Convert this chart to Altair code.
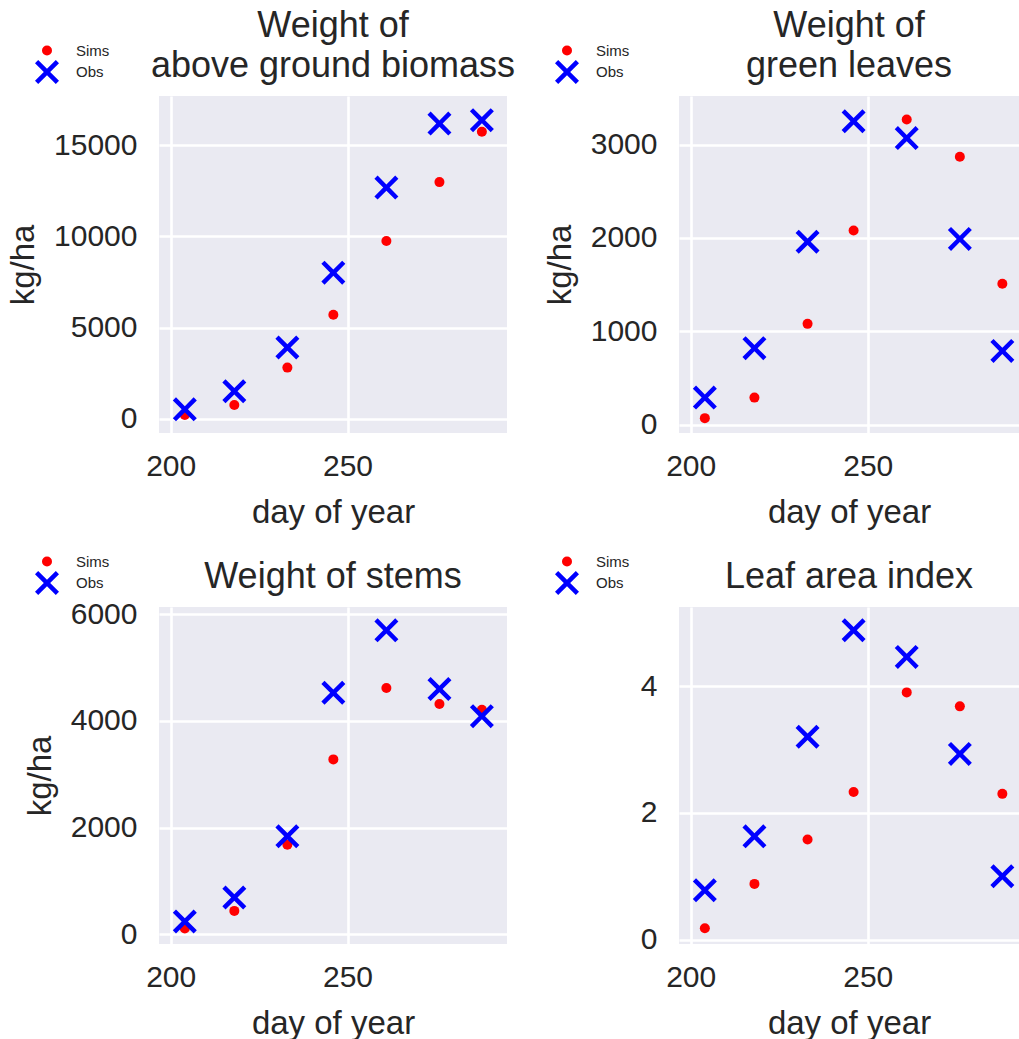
import altair as alt
import pandas as pd

# ---- data ----
days = [204, 218, 233, 246, 261, 276, 288]
series = ["Sims", "Obs"]

biomass_sims = [200, 750, 2800, 5700, 9750, 12980, 15740]
biomass_obs = [510, 1500, 3900, 8010, 12680, 16190, 16380]
leaves_sims = [70, 290, 1080, 2080, 3270, 2870, 1510]
leaves_obs = [290, 820, 1960, 3250, 3070, 1990, 790]
stems_sims = [110, 440, 1680, 3280, 4620, 4320, 4210]
stems_obs = [240, 690, 1840, 4530, 5700, 4600, 4090]
lai_sims = [0.18, 0.88, 1.58, 2.33, 3.90, 3.68, 2.30]
lai_obs = [0.78, 1.63, 3.20, 4.88, 4.46, 2.93, 1.00]

titles = [["Weight of", "above ground biomass"], ["Weight of", "green leaves"],
          "Weight of stems", "Leaf area index"]
y_titles = ["kg/ha", "kg/ha", "kg/ha", None]
y_domains = [[-790, 17706], [-89, 3521], [-181, 6137], [-0.068, 5.247]]
y_ticks = [[0, 5000, 10000, 15000], [0, 1000, 2000, 3000], [0, 2000, 4000, 6000], [0, 2, 4]]
x_ticks = [200, 250]
x_domain_left = [196.7, 295.1]
x_domain_right = [196.7, 292.7]

FONT = "Liberation Sans"
TXT = "#262626"
XPATH = ("M-1,-0.735 L-0.265,0 L-1,0.735 L-0.735,1 L0,0.265 L0.735,1 "
         "L1,0.735 L0.265,0 L1,-0.735 L0.735,-1 L0,-0.265 L-0.735,-1 Z")


def panel(title, sims, obs, ytitle, ydom, yvals, width, xdom):
    df = pd.DataFrame({
        "day": days + days,
        "value": sims + obs,
        "series": ["Sims"] * len(days) + ["Obs"] * len(days),
    })
    leg = alt.Legend(title=None, orient="none", legendX=-125, legendY=-53,
                     labelFontSize=15, labelFont=FONT, labelColor=TXT,
                     labelOffset=16, symbolOpacity=1, rowPadding=-2, padding=0)
    yaxis = alt.Axis(values=yvals, title=ytitle, format="d") if ytitle else \
        alt.Axis(values=yvals, title=None, format="d")
    return alt.Chart(df).mark_point(filled=True, opacity=1).encode(
        x=alt.X("day:Q", scale=alt.Scale(domain=xdom, nice=False, zero=False),
                axis=alt.Axis(values=x_ticks, title="day of year", format="d")),
        y=alt.Y("value:Q", scale=alt.Scale(domain=ydom, nice=False, zero=False), axis=yaxis),
        color=alt.Color("series:N", scale=alt.Scale(domain=series, range=["#ff0000", "#0000ff"]), legend=leg),
        shape=alt.Shape("series:N", scale=alt.Scale(domain=series, range=["circle", XPATH]), legend=leg),
        size=alt.Size("series:N", scale=alt.Scale(domain=series, range=[100, 576]), legend=leg),
    ).properties(width=width, height=337, title=alt.TitleParams(text=title, frame="group"))


p1 = panel(titles[0], biomass_sims, biomass_obs, y_titles[0], y_domains[0], y_ticks[0], 348, x_domain_left)
p2 = panel(titles[1], leaves_sims, leaves_obs, y_titles[1], y_domains[1], y_ticks[1], 340, x_domain_right)
p3 = panel(titles[2], stems_sims, stems_obs, y_titles[2], y_domains[2], y_ticks[2], 348, x_domain_left)
p4 = panel(titles[3], lai_sims, lai_obs, y_titles[3], y_domains[3], y_ticks[3], 340, x_domain_right)

chart = alt.concat(p1, p2, p3, p4, columns=2, spacing={"row": 174, "column": 172}).resolve_scale(
    x="independent", y="independent", color="independent", shape="independent", size="independent"
).resolve_legend(color="independent", shape="independent", size="independent").properties(
    bounds="flush", padding={"left": 7, "top": 8, "right": 0, "bottom": 0}
).configure_view(fill="#EAEAF2", strokeWidth=0).configure_axis(
    grid=True, gridColor="white", gridWidth=2.6, domain=False, ticks=False, tickSize=0,
    labelFont=FONT, labelFontSize=30, labelColor=TXT,
    titleFont=FONT, titleFontSize=33, titleColor=TXT, titleFontWeight="normal",
).configure_axisX(labelPadding=18, titlePadding=15).configure_axisY(
    labelPadding=22, titlePadding=13
).configure_title(
    font=FONT, fontSize=36, fontWeight="normal", color=TXT, lineHeight=40, offset=-42, anchor="middle"
)

chart.save("out.html", embed_options={"renderer": "svg", "actions": False})
